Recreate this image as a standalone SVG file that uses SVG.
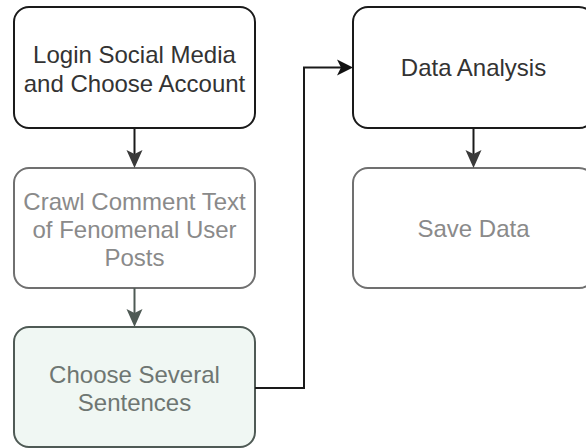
<svg xmlns="http://www.w3.org/2000/svg" width="586" height="448" viewBox="0 0 586 448">
<defs>
<style>
.box{stroke-width:2;rx:15;ry:15}
.dark{fill:#fff;stroke:#1a1a1a}
.grey{fill:#fff;stroke:#707070}
.green{fill:#f0f7f3;stroke:#4f5a55}
text{font-family:"Liberation Sans",Arial,sans-serif;font-size:24px;text-anchor:middle}
.tdark{fill:#333}
.tgrey{fill:#8a8a8a}
.tgreen{fill:#6e7672}
.line{fill:none;stroke-width:2}
</style>
</defs>
<rect x="0" y="0" width="586" height="448" fill="#fff"/>
<g id="login">
<rect class="box dark" x="14" y="7" width="241" height="121"/>
<text class="tdark" x="134.5" y="63">Login Social Media</text>
<text class="tdark" x="134.5" y="92">and Choose Account</text>
</g>
<g id="crawl">
<rect class="box grey" x="14" y="168" width="241" height="120"/>
<text class="tgrey" x="134.5" y="210">Crawl Comment Text</text>
<text class="tgrey" x="134.5" y="238">of Fenomenal User</text>
<text class="tgrey" x="134.5" y="266">Posts</text>
</g>
<g id="choose">
<rect class="box green" x="14" y="327" width="241" height="120"/>
<text class="tgreen" x="134.5" y="383">Choose Several</text>
<text class="tgreen" x="134.5" y="411">Sentences</text>
</g>
<g id="analysis">
<rect class="box dark" x="353" y="7" width="241" height="121"/>
<text class="tdark" x="473.5" y="76">Data Analysis</text>
</g>
<g id="save">
<rect class="box grey" x="353" y="168" width="241" height="120"/>
<text class="tgrey" x="473.5" y="237">Save Data</text>
</g>
<g id="connectors">
<path class="line" stroke="#1a1a1a" d="M134.5 128 V156"/>
<path fill="#3a3a3a" d="M134.5 168 L126.5 150 L134.5 154 L142.5 150 Z"/>
<path class="line" stroke="#1a1a1a" d="M473.5 128 V156"/>
<path fill="#3a3a3a" d="M473.5 168 L465.5 150 L473.5 154 L481.5 150 Z"/>
<path class="line" stroke="#4f5a55" d="M134.5 288 V315"/>
<path fill="#4f5a55" d="M134.5 327 L126.5 309 L134.5 313 L142.5 309 Z"/>
<path class="line" stroke="#1a1a1a" d="M255 388 H304 V67.5 H341"/>
<path fill="#111" d="M353 67.5 L337 59.5 L341 67.5 L337 75.5 Z"/>
</g>
</svg>
